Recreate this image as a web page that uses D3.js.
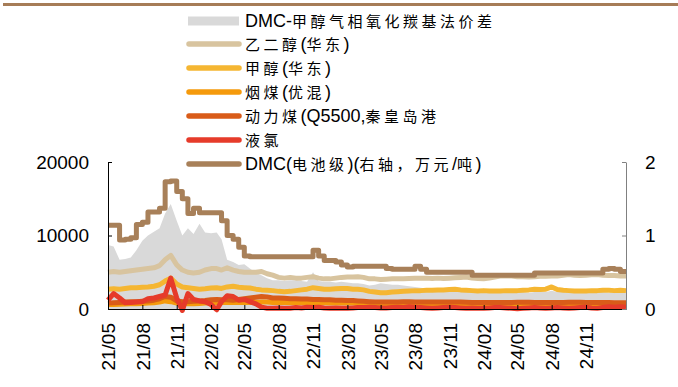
<!DOCTYPE html>
<html>
<head>
<meta charset="utf-8">
<script src="https://cdn.jsdelivr.net/npm/d3@7"></script>
<style>
body { margin: 0; background: #fff; }
text { font-family: "Liberation Sans", Arial, sans-serif; fill: #000; }
</style>
</head>
<body>
<svg id="chart" width="678" height="387"></svg>
<script>
// half-monthly observations, 2021-05-01 .. 2025-01-16
var firstMonth = new Date(2021, 4, 1), pointCount = 92;
var dates = d3.range(pointCount).map(function(i) {
  var m = d3.timeMonth.offset(firstMonth, Math.floor(i / 2));
  return i % 2 ? d3.timeDay.offset(m, 15) : m;
});

var spread = [
  8700, 8500, 6700, 6800, 7000, 8000, 9300, 10000, 10500, 11000, 13000, 14300,
  12000, 10000, 11000, 10200, 11600, 10400, 10300, 10400, 9500, 6700, 6400, 6000,
  6100, 5500, 4900, 4600, 4200, 3900, 3900, 3800, 3900, 3900, 3800, 3700,
  5000, 3800, 3700, 3700, 3600, 3700, 3600, 3500, 3500, 3400, 3200, 3300,
  3500, 3400, 3300, 3300, 3200, 3100, 3000, 2900, 2800, 2700, 2600, 2500,
  2400, 2300, 2300, 2400, 2300, 2200, 2300, 2300, 2400, 2300, 2300, 2400,
  2300, 2300, 2200, 2300, 2400, 2300, 2500, 2300, 2300, 2200, 2200, 2300,
  2300, 2200, 2300, 2300, 2200, 2300, 2300, 2200
];
var glycol = [
  5000, 5100, 5000, 5100, 5200, 5300, 5400, 5500, 5600, 5900, 6700, 7300,
  6000, 5300, 5000, 4900, 5000, 5300, 5500, 5500, 5300, 5600, 5300, 5100,
  5000, 5000, 5000, 5100, 4800, 4600, 4300, 4200, 4300, 4200, 4200, 4300,
  4400, 4200, 4100, 4100, 4200, 4300, 4350, 4350, 4400, 4300, 4100, 4100,
  4000, 4050, 4100, 4100, 4100, 4150, 4200, 4200, 4200, 4150, 4200, 4150,
  4200, 4250, 4300, 4350, 4200, 4150, 4100, 4200, 4350, 4500, 4500, 4500,
  4400, 4400, 4350, 4400, 4450, 4450, 4500, 4500, 4600, 4700, 4600, 4550,
  4600, 4650, 4700, 4600, 4550, 4550, 4500, 4500
];
var methanol = [
  2700, 2750, 2700, 2800, 2900, 2900, 2950, 3000, 3100, 3300, 3800, 4200,
  3400, 3000, 2900, 2800, 2700, 2750, 2850, 2900, 2800, 3000, 3100, 2950,
  2900, 2850, 2700, 2600, 2550, 2500, 2400, 2350, 2400, 2500, 2600, 2700,
  2900, 2800, 2700, 2700, 2750, 2800, 2800, 2700, 2700, 2600, 2400, 2300,
  2200, 2200, 2300, 2350, 2400, 2450, 2500, 2500, 2550, 2550, 2600, 2600,
  2650, 2700, 2600, 2550, 2500, 2450, 2500, 2450, 2450, 2450, 2500, 2500,
  2500, 2550, 2600, 2700, 2650, 2700, 3000, 2650, 2550, 2500, 2450, 2450,
  2450, 2500, 2500, 2550, 2550, 2500, 2550, 2500
];
var bitCoal = [
  600, 620, 650, 680, 700, 720, 750, 800, 850, 950, 1100, 1000,
  800, 750, 700, 700, 750, 800, 850, 900, 900, 900, 900, 900,
  900, 900, 900, 950, 950, 900, 900, 900, 850, 850, 850, 850,
  850, 850, 850, 800, 800, 800, 800, 800, 750, 750, 700, 700,
  700, 700, 700, 700, 700, 700, 700, 700, 700, 700, 700, 700,
  700, 700, 700, 700, 680, 680, 680, 680, 680, 680, 680, 680,
  680, 680, 680, 680, 680, 680, 680, 680, 680, 680, 680, 680,
  680, 670, 660, 650, 650, 650, 650, 650
];
var steamCoal = [
  800, 850, 900, 950, 1000, 1000, 1050, 1100, 1200, 1400, 1700, 1600,
  1100, 1000, 1000, 1050, 1100, 1150, 1250, 1300, 1250, 1250, 1200, 1300,
  1400, 1500, 1600, 1700, 1650, 1500, 1500, 1450, 1400, 1400, 1350, 1350,
  1300, 1300, 1250, 1250, 1200, 1200, 1150, 1150, 1100, 1050, 1000, 950,
  950, 950, 950, 950, 1000, 1000, 950, 950, 950, 950, 950, 950,
  950, 950, 950, 920, 900, 900, 900, 900, 900, 900, 900, 900,
  920, 920, 920, 900, 900, 900, 900, 900, 900, 920, 920, 920,
  900, 880, 870, 870, 870, 850, 850, 850
];
var chlorine = [
  1200, 2100, 1500, 850, 900, 950, 1000, 1400, 1500, 1700, 1900, 4200,
  1500, -200, 2100, 1300, 1100, 1000, 600, -100, 1000, 1800, 1700, 1200,
  1300, 1000, 700, 250, 100, 100, 150, 100, 100, 200, 150, 250,
  200, 250, 150, 100, 150, 100, 100, 150, 200, 200, 250, 200,
  150, 150, 200, 250, 200, 300, 250, 200, 150, 100, 150, 200,
  250, 200, 150, 100, 150, 100, 100, 150, 200, 200, 150, 100,
  50, 100, 150, 200, 150, 100, 150, 200, 150, 100, 150, 200,
  250, 150, 100, 200, 300, 250, 300, 250
];
// 万元/吨, right axis
var dmcBattery = [
  1.14, 1.14, 0.94, 0.95, 0.97, 1.15, 1.18, 1.32, 1.32, 1.37, 1.73, 1.74,
  1.6, 1.5, 1.3, 1.37, 1.31, 1.31, 1.31, 1.31, 1.2, 1.0, 0.95, 0.84,
  0.72, 0.71, 0.71, 0.71, 0.71, 0.71, 0.71, 0.71, 0.71, 0.71, 0.71, 0.71,
  0.8, 0.72, 0.66, 0.66, 0.64, 0.6, 0.57, 0.58, 0.58, 0.58, 0.58, 0.58,
  0.58, 0.55, 0.54, 0.54, 0.54, 0.54, 0.58, 0.54, 0.5, 0.5, 0.5, 0.5,
  0.5, 0.5, 0.5, 0.5, 0.46, 0.46, 0.46, 0.46, 0.46, 0.46, 0.46, 0.46,
  0.46, 0.46, 0.46, 0.49, 0.49, 0.49, 0.49, 0.49, 0.49, 0.49, 0.49, 0.49,
  0.49, 0.49, 0.49, 0.54, 0.55, 0.54, 0.51, 0.51
];

var leftTicks = [0, 10000, 20000];
var rightTicks = [0, 1, 2];
var xTickDates = d3.range(15).map(function(k) { return d3.timeMonth.offset(firstMonth, k * 3); });

var legendNames = ["DMC-甲醇气相氧化羰基法价差", "乙二醇(华东)", "甲醇(华东)", "烟煤(优混)",
  "动力煤(Q5500,秦皇岛港", "液氯", "DMC(电池级)(右轴，万元/吨)"];
var colors = ["#d9d9d9", "#d8c49f", "#f5b632", "#f59a0c", "#d95c19", "#e63b2a", "#a88059"];

var svg = d3.select("#chart");

svg.append("rect").attr("x", 3).attr("y", 3).attr("width", 675).attr("height", 3).attr("fill", "#a67c57");

var plot = {left: 108, right: 626, top: 162, bottom: 309};

var x = d3.scaleTime()
  .domain([dates[0], dates[dates.length - 1]])
  .range([plot.left, plot.right]);
var y = d3.scaleLinear().domain([0, 20000]).range([plot.bottom, plot.top]);
var y2 = d3.scaleLinear().domain([0, 2]).range([plot.bottom, plot.top]);

// spread as grey area
var area = d3.area()
  .x(function(d, i) { return x(dates[i]); })
  .y0(y(0))
  .y1(function(d) { return y(d); });
svg.append("path").datum(spread).attr("d", area).attr("fill", colors[0]);

var leftSeries = [glycol, methanol, bitCoal, steamCoal, chlorine];
var line = d3.line()
  .x(function(d, i) { return x(dates[i]); })
  .y(function(d) { return y(d); });

leftSeries.forEach(function(s, k) {
  svg.append("path").datum(s)
    .attr("d", line)
    .attr("fill", "none")
    .attr("stroke", colors[k + 1])
    .attr("stroke-width", 5)
    .attr("stroke-linejoin", "round");
});

var stepLine = d3.line()
  .curve(d3.curveStepAfter)
  .x(function(d, i) { return x(dates[i]); })
  .y(function(d) { return y2(d); });
svg.append("path").datum(dmcBattery)
  .attr("d", stepLine)
  .attr("fill", "none")
  .attr("stroke", colors[6])
  .attr("stroke-width", 5)
  .attr("stroke-linejoin", "round");

// axes
var xAxis = svg.append("g")
  .attr("transform", "translate(0," + plot.bottom + ")")
  .call(d3.axisBottom(x).tickValues(xTickDates).tickFormat(d3.timeFormat("%y/%m"))
    .tickSizeInner(-4).tickSizeOuter(0));
xAxis.select(".domain").attr("stroke", "#000");
xAxis.selectAll("line").attr("stroke", "#000");
xAxis.selectAll("text")
  .attr("transform", "rotate(-90)")
  .attr("x", -14).attr("y", 0).attr("dy", "0.35em")
  .style("text-anchor", "end")
  .style("font-size", "19px")
  .style("font-family", "Liberation Sans, Arial, sans-serif");

var yAxis = svg.append("g")
  .attr("transform", "translate(" + plot.left + ",0)")
  .call(d3.axisLeft(y).tickValues(leftTicks).tickFormat(d3.format("d"))
    .tickSizeInner(-4).tickSizeOuter(0).tickPadding(19));
yAxis.select(".domain").attr("stroke", "#000");
yAxis.selectAll("line").attr("stroke", "#000");
yAxis.selectAll("text").style("font-size", "19px").style("font-family", "Liberation Sans, Arial, sans-serif");

var yAxis2 = svg.append("g")
  .attr("transform", "translate(" + plot.right + ",0)")
  .call(d3.axisRight(y2).tickValues(rightTicks).tickFormat(d3.format("d"))
    .tickSizeInner(-4).tickSizeOuter(0).tickPadding(19));
yAxis2.select(".domain").attr("stroke", "#808080");
yAxis2.selectAll("line").attr("stroke", "#808080");
yAxis2.selectAll("text").style("font-size", "19px").style("font-family", "Liberation Sans, Arial, sans-serif");

// legend
function richText(sel, str) {
  var cjk = /([\u3000-\u9fff\uff00-\uffef]+)/;
  str.split(cjk).forEach(function(part) {
    if (!part) return;
    var t = sel.append("tspan").text(part);
    if (cjk.test(part)) {
      t.style("font-family", "Noto Sans CJK SC, sans-serif")
        .style("font-size", "15px")
        .style("letter-spacing", "3.5px");
    }
  });
}

var legend = svg.append("g");
legendNames.forEach(function(name, k) {
  var cy = k === 0 ? 21 : 44 + (k - 1) * 24;
  if (k === 0) {
    legend.append("rect").attr("x", 188).attr("y", cy - 4.5)
      .attr("width", 51).attr("height", 9).attr("fill", colors[0]);
  } else {
    legend.append("line")
      .attr("x1", 189).attr("x2", 239).attr("y1", cy).attr("y2", cy)
      .attr("stroke", colors[k]).attr("stroke-width", 5.5).attr("stroke-linecap", "round");
  }
  var t = legend.append("text").attr("x", 245).attr("y", cy).attr("dy", "0.36em")
    .style("font-size", "18px");
  richText(t, name);
});
</script>
</body>
</html>
